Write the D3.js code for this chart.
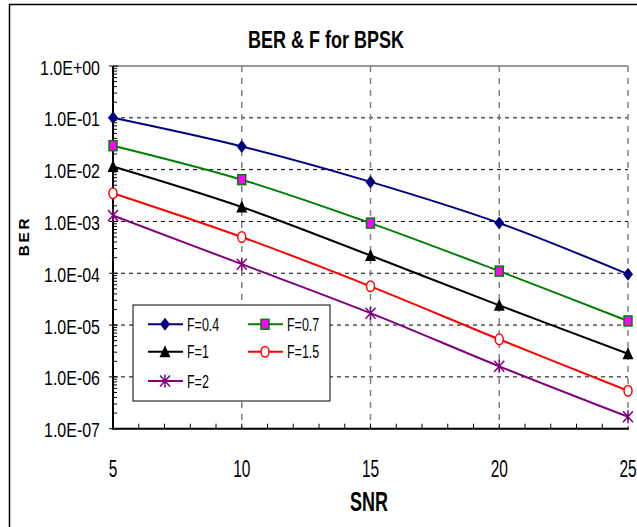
<!DOCTYPE html>
<html>
<head>
    <title>BER & F for BPSK</title>
    <style type="text/css">
        body { margin: 0; background: #fff; }
        svg text { font-family: "Liberation Sans", Arial, sans-serif; fill: #000; }
    </style>
</head>
<body>
<script src="https://d3js.org/d3.v7.min.js" type="text/javascript"></script>
<script type="text/javascript">

    // data
    var snr = [5, 10, 15, 20, 25];
    var berF04 = [1.0e-1, 2.8e-2, 5.8e-3, 9.3e-4, 9.6e-5];
    var berF07 = [2.9e-2, 6.4e-3, 9.3e-4, 1.1e-4, 1.2e-5];
    var berF1 = [1.15e-2, 1.9e-3, 2.2e-4, 2.4e-5, 2.8e-6];
    var berF15 = [3.5e-3, 5.0e-4, 5.6e-5, 5.3e-6, 5.4e-7];
    var berF2 = [1.3e-3, 1.5e-4, 1.7e-5, 1.6e-6, 1.7e-7];
    var seriesNames = ['F=0.4', 'F=0.7', 'F=1', 'F=1.5', 'F=2'];
    var yTickLabels = ['1.0E+00', '1.0E-01', '1.0E-02', '1.0E-03', '1.0E-04', '1.0E-05', '1.0E-06', '1.0E-07'];

    var W = 637, H = 527;
    // plot area edges (note: "top" is reserved on window)
    var pLeft = 113, pRight = 628, pTop = 66, pBottom = 428.7;

    var svg = d3.select('body').append('svg')
        .attr('width', W).attr('height', H);

    svg.append('rect').attr('width', W).attr('height', H).attr('fill', '#fff');
    // outer chart frame (runs off right/bottom)
    svg.append('rect')
        .attr('x', 9.5).attr('y', 4.5).attr('width', 700).attr('height', 600)
        .attr('fill', 'none').attr('stroke', '#000').attr('stroke-width', 1.5);

    var x = d3.scaleLinear().domain([5, 25]).range([pLeft, pRight]);
    var y = d3.scaleLog().domain([1e-7, 1]).range([pBottom, pTop]);

    // text helper: squeezed fonts are drawn with a vertical stretch
    function label(g, str, tx, ty, size, sy, anchor, bold) {
        return g.append('text')
            .attr('transform', 'translate(' + tx + ',' + ty + ') scale(1,' + sy + ')')
            .attr('text-anchor', anchor)
            .style('font-size', size + 'px')
            .style('font-weight', bold ? 'bold' : 'normal')
            .text(str);
    }

    // gridlines
    var decades = d3.range(0, 8).map(function (i) { return Math.pow(10, -i); });
    svg.append('g').selectAll('line')
        .data(decades.slice(0, 7))
        .enter().append('line')
        .attr('x1', pLeft).attr('x2', pRight)
        .attr('y1', function (d) { return y(d); })
        .attr('y2', function (d) { return y(d); })
        .attr('stroke', function (d, i) { return i === 0 ? '#333' : '#000'; })
        .attr('stroke-dasharray', function (d, i) { return i === 0 ? null : '4,4'; })
        .attr('stroke-width', 1);

    svg.append('g').selectAll('line')
        .data([10, 15, 20, 25])
        .enter().append('line')
        .attr('x1', function (d) { return x(d); })
        .attr('x2', function (d) { return x(d); })
        .attr('y1', pTop).attr('y2', pBottom)
        .attr('stroke', '#808080')
        .attr('stroke-width', 1.5)
        .attr('stroke-dasharray', '6,6');

    // y axis with log minor ticks
    var yMinor = [];
    for (var e = -7; e < 0; e++) {
        for (var m = 2; m <= 9; m++) yMinor.push(m * Math.pow(10, e));
    }
    var yAxis = svg.append('g');
    yAxis.selectAll('line.minor').data(yMinor).enter().append('line')
        .attr('x1', pLeft).attr('x2', pLeft + 4)
        .attr('y1', function (d) { return y(d); }).attr('y2', function (d) { return y(d); })
        .attr('stroke', '#000').attr('stroke-width', 1);
    yAxis.selectAll('line.major').data(decades).enter().append('line')
        .attr('x1', pLeft - 4).attr('x2', pLeft + 5)
        .attr('y1', function (d) { return y(d); }).attr('y2', function (d) { return y(d); })
        .attr('stroke', '#000').attr('stroke-width', 1);
    yAxis.append('line')
        .attr('x1', pLeft).attr('x2', pLeft).attr('y1', pTop).attr('y2', pBottom + 1)
        .attr('stroke', '#000').attr('stroke-width', 2);
    decades.forEach(function (d, i) {
        label(yAxis, yTickLabels[i], 100, y(d) + 8.5, 16, 1.22, 'end', false);
    });

    // x axis with minor ticks every 1
    var xAxis = svg.append('g');
    xAxis.selectAll('line.minor').data(d3.range(6, 25)).enter().append('line')
        .attr('x1', function (d) { return x(d); }).attr('x2', function (d) { return x(d); })
        .attr('y1', pBottom).attr('y2', pBottom - 5)
        .attr('stroke', '#000').attr('stroke-width', 1);
    xAxis.append('line')
        .attr('x1', pLeft - 1).attr('x2', pRight + 1).attr('y1', pBottom).attr('y2', pBottom)
        .attr('stroke', '#000').attr('stroke-width', 2);
    snr.forEach(function (d) {
        label(xAxis, String(d), x(d), 476.5, 15.5, 1.5, 'middle', false);
    });

    // titles
    label(svg, 'BER & F for BPSK', 326, 48, 18, 1.3, 'middle', true);
    label(svg, 'SNR', 369, 510.5, 18, 1.55, 'middle', true);
    svg.append('text')
        .attr('transform', 'translate(28.5,236) rotate(-90) scale(1.1,1)')
        .attr('text-anchor', 'middle')
        .style('font-size', '14px')
        .style('font-weight', 'bold')
        .style('letter-spacing', '2.5px')
        .text('BER');

    // marker shapes
    function marker(g, kind, cx, cy) {
        var s = g.append('g').attr('transform', 'translate(' + cx + ',' + cy + ')');
        if (kind === 0) {
            s.append('path').attr('d', 'M0,-6.5L5,0L0,6.5L-5,0Z').attr('fill', '#000080');
        } else if (kind === 1) {
            s.append('rect').attr('x', -4).attr('y', -5).attr('width', 8).attr('height', 10)
                .attr('fill', '#ff00ff').attr('stroke', '#008000').attr('stroke-width', 1.5);
        } else if (kind === 2) {
            s.append('path').attr('d', 'M0,-6.5L5.5,5.5L-5.5,5.5Z').attr('fill', '#000');
        } else if (kind === 3) {
            s.append('ellipse').attr('rx', 4).attr('ry', 5.3).attr('fill', '#fff')
                .attr('stroke', '#ff0000').attr('stroke-width', 1.5);
        } else {
            s.append('path').attr('d', 'M-5,-5.5L5,5.5M-5,5.5L5,-5.5M0,-6.5L0,6.5')
                .attr('stroke', '#800080').attr('stroke-width', 1.5).attr('fill', 'none');
        }
    }

    var colors = ['#000080', '#008000', '#000000', '#ff0000', '#800080'];
    var allSeries = [berF04, berF07, berF1, berF15, berF2];

    var line = d3.line()
        .x(function (d, i) { return x(snr[i]); })
        .y(function (d) { return y(d); })
        .curve(d3.curveCatmullRom);

    var plot = svg.append('g');
    allSeries.forEach(function (vals, k) {
        plot.append('path').attr('d', line(vals))
            .attr('fill', 'none').attr('stroke', colors[k]).attr('stroke-width', 2);
    });
    allSeries.forEach(function (vals, k) {
        vals.forEach(function (v, i) { marker(plot, k, x(snr[i]), y(v)); });
    });

    // legend
    var lg = svg.append('g');
    lg.append('rect').attr('x', 133).attr('y', 305).attr('width', 197).attr('height', 96)
        .attr('fill', '#fff').attr('stroke', '#000').attr('stroke-width', 1);
    var rowsY = [324.3, 351.7, 381];
    var colsX = [148, 248];
    seriesNames.forEach(function (name, k) {
        var lx = colsX[k % 2], ly = rowsY[Math.floor(k / 2)];
        lg.append('line').attr('x1', lx).attr('x2', lx + 35).attr('y1', ly).attr('y2', ly)
            .attr('stroke', colors[k]).attr('stroke-width', 2);
        marker(lg, k, lx + 17, ly);
        label(lg, name, lx + 39, ly + 6.5, 12.5, 1.45, 'start', false);
    });

</script>
</body>
</html>
